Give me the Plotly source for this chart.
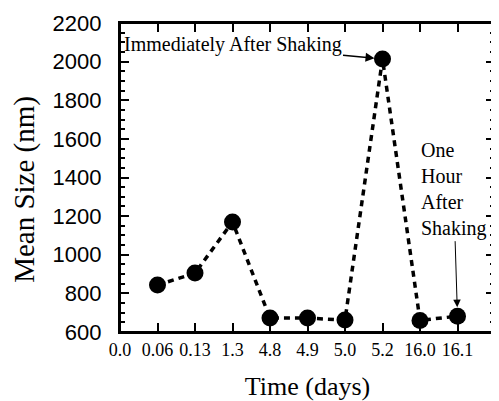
import plotly.graph_objects as go

tick_labels = ["0.0", "0.06", "0.13", "1.3", "4.8", "4.9", "5.0", "5.2", "16.0", "16.1"]
point_labels = ["0.06", "0.13", "1.3", "4.8", "4.9", "5.0", "5.2", "16.0", "16.1"]
mean_size = [843, 905, 1170, 672, 672, 662, 2014, 660, 682]

xpos = [tick_labels.index(l) for l in point_labels]

fig = go.Figure()
fig.add_trace(go.Scatter(
    x=xpos, y=mean_size, mode="lines+markers",
    line=dict(color="black", width=3.5, dash="6px,5px"),
    marker=dict(color="black", size=17),
    showlegend=False,
))

serif = "Liberation Serif, Times New Roman, serif"
sans = "Liberation Sans, Arial, sans-serif"

fig.add_annotation(
    x=tick_labels.index("5.2"), y=mean_size[point_labels.index("5.2")],
    text="Immediately After Shaking", showarrow=True,
    ax=-150, ay=-14, arrowhead=2, arrowsize=1.2, arrowwidth=1.5,
    arrowcolor="black", standoff=8,
    font=dict(family=serif, size=20, color="black"),
)
fig.add_annotation(
    x=tick_labels.index("16.1"), y=mean_size[point_labels.index("16.1")],
    text="One<br>Hour<br>After<br>Shaking", showarrow=True, align="left",
    ax=-4, ay=-127, arrowhead=2, arrowsize=1.5, arrowwidth=1,
    arrowcolor="black", standoff=9,
    font=dict(family=serif, size=20, color="black"),
)
# y-axis title
fig.add_annotation(
    xref="paper", yref="paper", x=0, y=0.46, xshift=-95, showarrow=False,
    text="Mean Size (nm)", textangle=-90, xanchor="center", yanchor="middle",
    font=dict(family=serif, size=29, color="black"),
)

fig.add_shape(type="rect", xref="paper", yref="paper", x0=0, y0=0, x1=1, y1=1,
              line=dict(color="black", width=2), layer="above")

fig.update_xaxes(
    range=[0, 10], tickmode="array", tickvals=list(range(len(tick_labels))),
    ticktext=tick_labels, ticks="inside", ticklen=9, tickwidth=2,
    tickcolor="black", showline=True, linecolor="black", linewidth=2,
    mirror="allticks", showgrid=False, zeroline=False,
    tickfont=dict(family=serif, size=18, color="black"),
    title=dict(text="Time (days)", font=dict(family=serif, size=26, color="black"), standoff=18),
)
fig.update_yaxes(
    range=[600, 2200], dtick=200, ticks="inside", ticklen=9, tickwidth=2,
    tickcolor="black", showline=True, linecolor="black", linewidth=2,
    mirror="allticks", showgrid=False, zeroline=False,
    minor=dict(dtick=50, ticks="inside", ticklen=5, tickcolor="black", tickwidth=1.5),
    tickfont=dict(family=sans, size=22, color="black"),
    ticksuffix="\u00a0\u00a0",
)

fig.update_layout(
    width=491, height=393,
    margin=dict(l=112, r=2, t=15, b=69),
    plot_bgcolor="white", paper_bgcolor="white",
)

fig.write_html("out.html")
